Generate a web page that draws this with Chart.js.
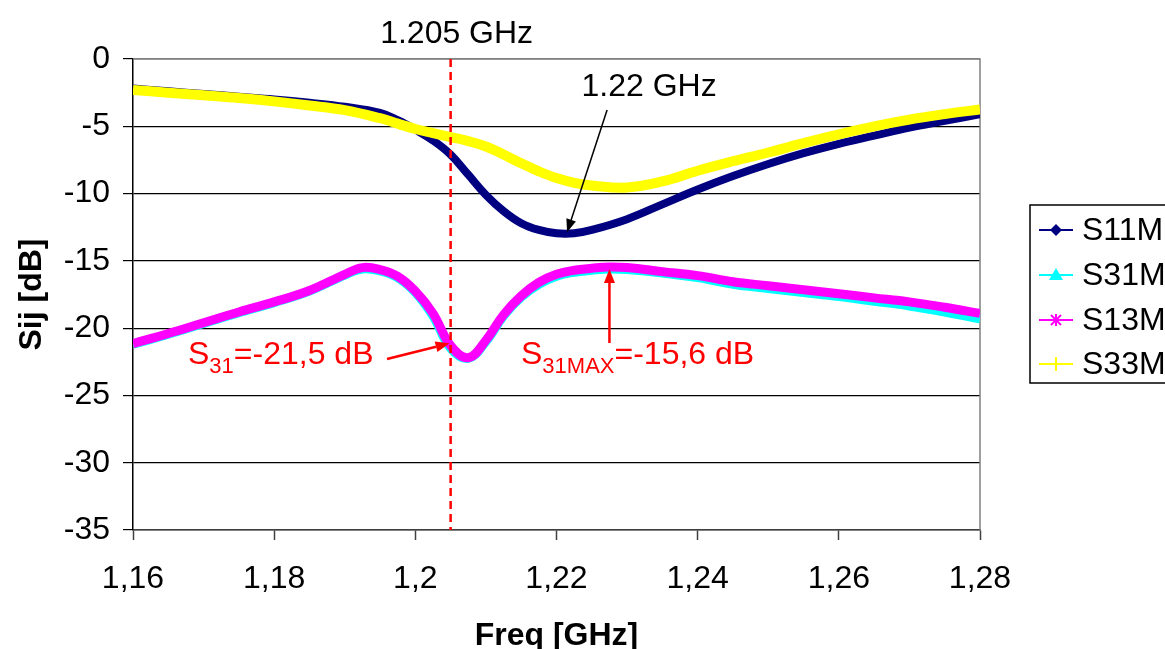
<!DOCTYPE html>
<html>
<head>
<meta charset="utf-8">
<script src="https://cdn.jsdelivr.net/npm/chart.js@4/dist/chart.umd.min.js"></script>
<style>
  html, body { margin: 0; padding: 0; background: #fff; overflow: hidden; }
  #wrap { position: relative; width: 1165px; height: 649px; }
</style>
</head>
<body>
<div id="wrap"><canvas id="chart" width="1165" height="649"></canvas></div>
<script>
// Frequency grid (GHz) for the reflection curves S11 / S33
const freqRefl = [1.16, 1.165, 1.17, 1.175, 1.18, 1.185, 1.19, 1.195, 1.1975, 1.2, 1.2025, 1.205,
  1.2075, 1.21, 1.2125, 1.215, 1.2175, 1.22, 1.2225, 1.225, 1.23, 1.235, 1.24, 1.245, 1.25,
  1.255, 1.26, 1.265, 1.27, 1.275, 1.28];
const s11M = [-2.2, -2.4, -2.6, -2.8, -3.0, -3.25, -3.55, -4.0, -4.55, -5.25, -6.05, -7.1,
  -8.6, -10.1, -11.3, -12.2, -12.7, -12.95, -12.95, -12.7, -11.9, -10.8, -9.7, -8.7, -7.8,
  -7.0, -6.3, -5.7, -5.1, -4.6, -4.1];
const s33M = [-2.3, -2.5, -2.7, -2.9, -3.15, -3.45, -3.8, -4.4, -4.8, -5.2, -5.5, -5.8,
  -6.1, -6.5, -7.1, -7.75, -8.35, -8.85, -9.2, -9.4, -9.55, -9.1, -8.3, -7.6, -6.95,
  -6.25, -5.6, -5.0, -4.5, -4.1, -3.75];

// Frequency grid (GHz) for the transmission curves S31 / S13
const freqTrans = [1.16, 1.165, 1.17, 1.175, 1.18, 1.185, 1.19, 1.1925, 1.195, 1.1975, 1.2, 1.2025,
  1.205, 1.2075, 1.21, 1.2125, 1.215, 1.2175, 1.22, 1.2225, 1.225, 1.2275, 1.23, 1.235, 1.24,
  1.245, 1.25, 1.255, 1.26, 1.265, 1.27, 1.275, 1.28];
const s31M = [-21.2, -20.45, -19.65, -18.85, -18.1, -17.25, -16.05, -15.6, -15.75, -16.25, -17.35, -19.1,
  -21.5, -22.25, -21.0, -19.1, -17.7, -16.75, -16.15, -15.85, -15.7, -15.6, -15.65, -15.9, -16.25,
  -16.75, -17.05, -17.35, -17.65, -18.0, -18.35, -18.8, -19.3];
const s13M = [-21.15, -20.4, -19.6, -18.8, -18.05, -17.2, -16.0, -15.5, -15.65, -16.15, -17.25, -18.9,
  -21.3, -22.2, -20.9, -19.0, -17.6, -16.6, -16.0, -15.7, -15.55, -15.45, -15.5, -15.8, -16.1,
  -16.55, -16.85, -17.15, -17.45, -17.75, -18.05, -18.45, -18.9];

// Axis ticks
const xTickValues = [1.16, 1.18, 1.2, 1.22, 1.24, 1.26, 1.28];
const xTickLabels = ['1,16', '1,18', '1,2', '1,22', '1,24', '1,26', '1,28'];
const yTickValues = [0, -5, -10, -15, -20, -25, -30, -35];
const yTickLabels = ['0', '-5', '-10', '-15', '-20', '-25', '-30', '-35'];

// Marked points
const markerFreq = 1.205;           // dashed marker line
const markerLabel = '1.205 GHz';
const s11MinFreq = 1.2215;          // S11 minimum
const s11MinDb = -12.95;
const s11MinLabel = '1.22 GHz';
const s31AtMarkerDb = -21.5;        // S31 at the marker frequency
const s31MaxFreq = 1.2275;
const s31MaxDb = -15.6;

const FONT = '"Liberation Sans", Arial, sans-serif';

const series = [
  { label: 'S11M', x: freqRefl, y: s11M, color: '#000080', width: 8, marker: 'diamond', order: 3 },
  { label: 'S31M', x: freqTrans, y: s31M, color: '#00FFFF', width: 9, marker: 'triangle', order: 2 },
  { label: 'S13M', x: freqTrans, y: s13M, color: '#FF00FF', width: 9, marker: 'star', order: 1 },
  { label: 'S33M', x: freqRefl, y: s33M, color: '#FFFF00', width: 10, marker: 'plus', order: 0 }
];

function arrow(ctx, x1, y1, x2, y2, color, lw, headLen, headHalf) {
  const a = Math.atan2(y2 - y1, x2 - x1);
  const bx = x2 - headLen * Math.cos(a), by = y2 - headLen * Math.sin(a);
  ctx.save();
  ctx.strokeStyle = color; ctx.fillStyle = color; ctx.lineWidth = lw;
  ctx.beginPath(); ctx.moveTo(x1, y1); ctx.lineTo(bx, by); ctx.stroke();
  ctx.beginPath();
  ctx.moveTo(x2, y2);
  ctx.lineTo(bx + headHalf * Math.sin(a), by - headHalf * Math.cos(a));
  ctx.lineTo(bx - headHalf * Math.sin(a), by + headHalf * Math.cos(a));
  ctx.closePath(); ctx.fill();
  ctx.restore();
}

function legendMarker(ctx, kind, x, y, color) {
  ctx.save();
  ctx.fillStyle = color; ctx.strokeStyle = color; ctx.lineWidth = 2;
  if (kind === 'diamond') {
    ctx.beginPath(); ctx.moveTo(x, y - 6); ctx.lineTo(x + 6, y); ctx.lineTo(x, y + 6); ctx.lineTo(x - 6, y);
    ctx.closePath(); ctx.fill();
  } else if (kind === 'triangle') {
    ctx.beginPath(); ctx.moveTo(x, y - 7); ctx.lineTo(x + 7, y + 5); ctx.lineTo(x - 7, y + 5);
    ctx.closePath(); ctx.fill();
  } else if (kind === 'star') {
    ctx.beginPath();
    ctx.moveTo(x - 5, y - 5); ctx.lineTo(x + 5, y + 5);
    ctx.moveTo(x + 5, y - 5); ctx.lineTo(x - 5, y + 5);
    ctx.moveTo(x, y - 6); ctx.lineTo(x, y + 6);
    ctx.stroke();
  } else if (kind === 'plus') {
    ctx.beginPath();
    ctx.moveTo(x, y - 7); ctx.lineTo(x, y + 7);
    ctx.stroke();
  }
  ctx.restore();
}

function subscriptLabel(ctx, x, baseline, main, sub, rest, color) {
  ctx.save();
  ctx.fillStyle = color;
  ctx.textBaseline = 'alphabetic'; ctx.textAlign = 'left';
  ctx.font = '32px ' + FONT;
  ctx.fillText(main, x, baseline);
  let cx = x + ctx.measureText(main).width;
  ctx.font = '22px ' + FONT;
  ctx.fillText(sub, cx, baseline + 9);
  cx += ctx.measureText(sub).width;
  ctx.font = '32px ' + FONT;
  ctx.fillText(rest, cx, baseline);
  ctx.restore();
}

const decorations = {
  id: 'decorations',
  beforeDatasetsDraw(chart) {
    const { ctx, chartArea: a } = chart;
    ctx.save();
    ctx.strokeStyle = '#808080'; ctx.lineWidth = 1.5;
    ctx.beginPath();
    ctx.moveTo(a.left, a.top); ctx.lineTo(a.right, a.top); ctx.lineTo(a.right, a.bottom);
    ctx.stroke();
    ctx.restore();
  },
  afterDatasetsDraw(chart) {
    const { ctx, chartArea: a, scales: { x, y } } = chart;
    ctx.save();
    // dashed marker line
    const mx = x.getPixelForValue(markerFreq);
    ctx.strokeStyle = '#FF0000'; ctx.lineWidth = 2.5; ctx.setLineDash([8, 5]);
    ctx.beginPath(); ctx.moveTo(mx, a.top); ctx.lineTo(mx, a.bottom); ctx.stroke();
    ctx.setLineDash([]);

    ctx.fillStyle = '#000';
    ctx.font = '32px ' + FONT;
    ctx.textAlign = 'center'; ctx.textBaseline = 'alphabetic';
    ctx.fillText(markerLabel, mx + 6, 43);

    // S11 minimum callout
    const tipX = x.getPixelForValue(s11MinFreq), tipY = y.getPixelForValue(s11MinDb);
    ctx.fillText(s11MinLabel, tipX + 82, 96);
    arrow(ctx, tipX + 40, 110, tipX, tipY - 1, '#000', 1.5, 13, 5);

    // S31 at the marker frequency
    subscriptLabel(ctx, 188, 364, 'S', '31', '=-21,5 dB', '#FF0000');
    const s31Y = y.getPixelForValue(s31AtMarkerDb);
    arrow(ctx, 387, 359, mx - 1, s31Y - 5, '#FF0000', 2.5, 14, 5.5);

    // S31 maximum
    subscriptLabel(ctx, 521, 364, 'S', '31MAX', '=-15,6 dB', '#FF0000');
    const pmx = x.getPixelForValue(s31MaxFreq), pmy = y.getPixelForValue(s31MaxDb);
    arrow(ctx, pmx, 343, pmx, pmy, '#FF0000', 2.5, 14, 5.5);

    // axis titles
    ctx.fillStyle = '#000';
    ctx.font = 'bold 32px ' + FONT;
    ctx.textAlign = 'center'; ctx.textBaseline = 'alphabetic';
    ctx.fillText('Freq [GHz]', (a.left + a.right) / 2, 645);
    ctx.save();
    ctx.translate(41, (a.top + a.bottom) / 2);
    ctx.rotate(-Math.PI / 2);
    ctx.fillText('Sij [dB]', 0, 0);
    ctx.restore();

    // legend
    const lx = 1030, ly = 205, lh = 178;
    ctx.strokeStyle = '#000'; ctx.lineWidth = 1.5;
    ctx.strokeRect(lx, ly, 200, lh);
    const rows = [230, 275, 320, 364];
    ctx.font = '32px ' + FONT;
    ctx.textAlign = 'left'; ctx.textBaseline = 'middle';
    series.forEach((s, i) => {
      const ry = rows[i];
      ctx.strokeStyle = s.color; ctx.lineWidth = 2;
      ctx.beginPath(); ctx.moveTo(1039, ry); ctx.lineTo(1073, ry); ctx.stroke();
      legendMarker(ctx, s.marker, 1056, ry, s.color);
      ctx.fillStyle = '#000';
      ctx.fillText(s.label, 1082, ry + 1);
    });
    ctx.restore();
  }
};

new Chart(document.getElementById('chart'), {
  type: 'line',
  data: {
    datasets: series.map(s => ({
      label: s.label,
      data: s.x.map((f, i) => ({ x: f, y: s.y[i] })),
      borderColor: s.color,
      backgroundColor: s.color,
      borderWidth: s.width,
      borderJoinStyle: 'round',
      pointRadius: 0,
      tension: 0.4,
      fill: false,
      order: s.order
    }))
  },
  options: {
    responsive: false,
    animation: false,
    events: [],
    layout: { padding: { left: 0, right: 185, top: 59, bottom: 0 } },
    plugins: { legend: { display: false }, tooltip: { enabled: false } },
    scales: {
      x: {
        type: 'linear', min: 1.16, max: 1.28,
        afterBuildTicks: s => { s.ticks = xTickValues.map(v => ({ value: v })); },
        afterFit: s => { s.height = 119; },
        ticks: {
          callback: (v, i) => xTickLabels[i],
          font: { family: FONT, size: 32 }, color: '#000',
          padding: 20, maxRotation: 0, autoSkip: false
        },
        grid: { drawOnChartArea: false, drawTicks: true, tickLength: 10, tickColor: '#404040', tickWidth: 1.5 },
        border: { color: '#404040', width: 1.5 }
      },
      y: {
        type: 'linear', min: -35, max: 0,
        afterBuildTicks: s => { s.ticks = yTickValues.slice().reverse().map(v => ({ value: v })); },
        afterFit: s => { s.width = 133; },
        ticks: {
          callback: v => yTickLabels[yTickValues.indexOf(v)],
          font: { family: FONT, size: 32 }, color: '#000', padding: 13
        },
        grid: {
          color: c => (c.tick && c.tick.value === 0 ? '#808080' : '#000'),
          lineWidth: 1.2, tickLength: 10, tickColor: '#000'
        },
        border: { color: '#000', width: 1.5 }
      }
    }
  },
  plugins: [decorations]
});
</script>
</body>
</html>
